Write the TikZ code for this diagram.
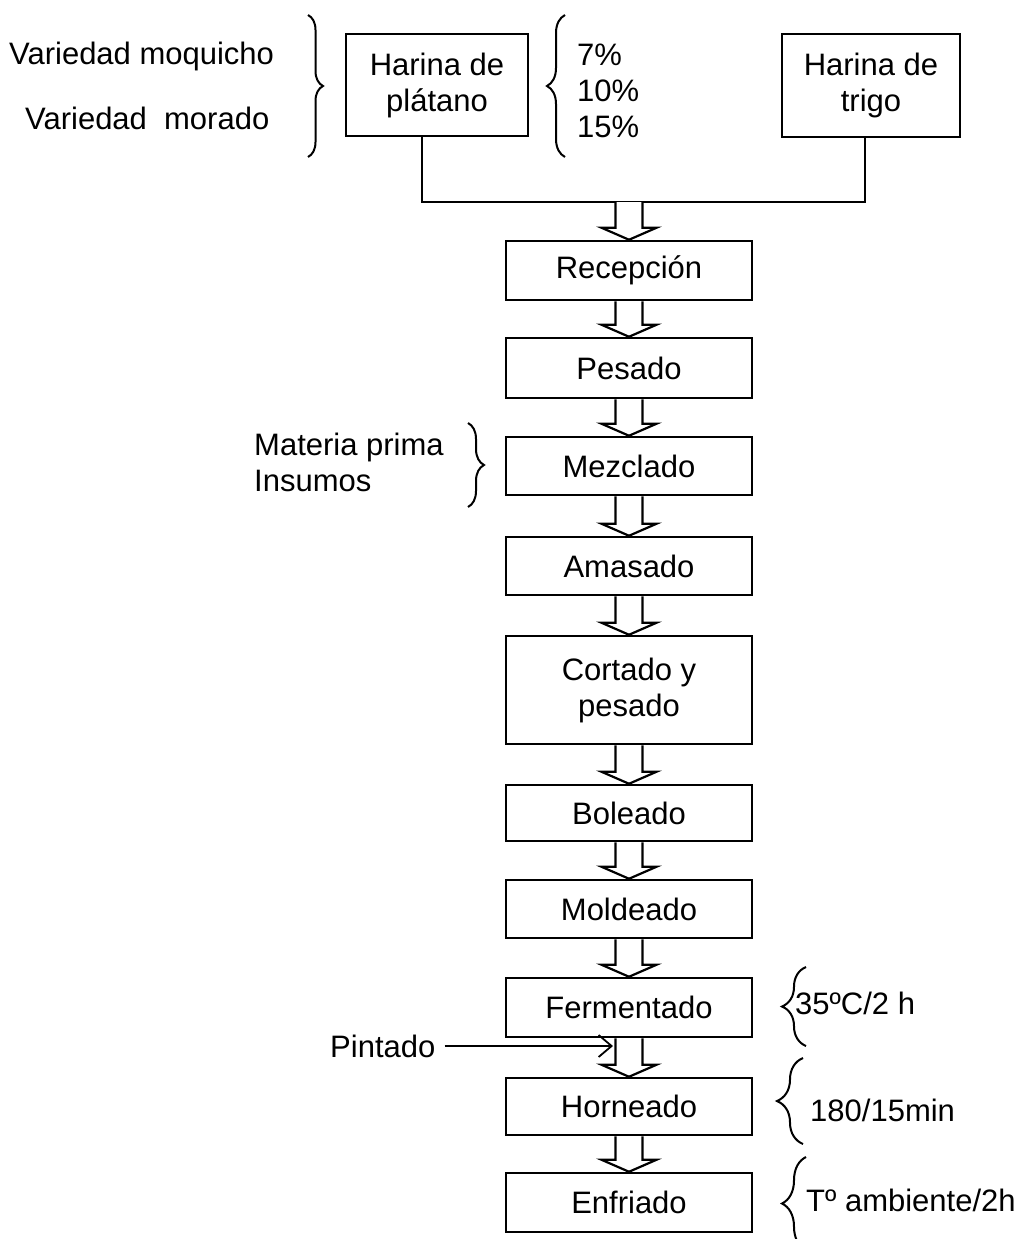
\documentclass[tikz,border=0pt]{standalone}
\usepackage{fontspec}
\setmainfont{Liberation Sans}
\usetikzlibrary{calc,decorations.pathreplacing,arrows.meta}
\newcommand\blockarr[2]{%
  \draw[bigarrow] ($(#1)+(-13.5,0)$) -- ($(#2)+(-13.5,-12)$) -- ($(#2)+(-27.5,-12)$) -- (#2)
    -- ($(#2)+(27.5,-12)$) -- ($(#2)+(13.5,-12)$) -- ($(#1)+(13.5,0)$);}
\begin{document}
\begin{tikzpicture}[x=1pt,y=-1pt,
  every node/.style={font=\fontsize{31}{36}\selectfont, inner sep=0pt},
  proc/.style={draw, line width=2.5pt, minimum width=246pt, align=center},
  src/.style={draw, line width=2.5pt, align=center},
  lbl/.style={align=left, anchor=west},
  bigarrow/.style={draw, line width=2.2pt, fill=white, line join=miter},
  brc/.style={decorate, line width=2pt, decoration={brace, amplitude=#1}},
  conn/.style={line width=2.2pt},
]
\useasboundingbox (0,0) rectangle (1024,1239);
\fill[white] (0,0) rectangle (1024,1239);

% source boxes
\node[src, minimum width=182pt, minimum height=102pt] (plat) at (437,85) {Harina de\\plátano};
\node[src, minimum width=178pt, minimum height=103pt] (trigo) at (871,85.5) {Harina de\\trigo};

% process boxes
\node[proc, minimum height=59pt] (rec) at (629,270.5) {Recepción};
\node[proc, minimum height=60pt] (pes) at (629,368) {Pesado};
\node[proc, minimum height=58pt] (mez) at (629,466) {Mezclado};
\node[proc, minimum height=58pt] (ama) at (629,566) {Amasado};
\node[proc, minimum height=108pt] (cor) at (629,690) {Cortado y\\pesado};
\node[proc, minimum height=56pt] (bol) at (629,813) {Boleado};
\node[proc, minimum height=58pt] (mol) at (629,909) {Moldeado};
\node[proc, minimum height=59pt] (fer) at (629,1007.5) {Fermentado};
\node[proc, minimum height=57pt] (hor) at (629,1106.5) {Horneado};
\node[proc, minimum height=59pt] (enf) at (629,1202.5) {Enfriado};

% side labels
\node[lbl] (var1) at (9,56) {Variedad moquicho};
\node[lbl] (var2) at (25,118) {Variedad~~morado};
\node[lbl] (pct) at (577,91) {7\%\\10\%\\15\%};
\node[lbl] (mp) at (254,462) {Materia prima\\Insumos};
\node[lbl] (t1) at (795,1003) {35ºC/2 h};
\node[lbl] (t2) at (810,1110) {180/15min};
\node[lbl] (t3) at (806,1200) {Tº ambiente/2h};
\node[lbl] (pint) at (330,1046) {Pintado};

% braces
\draw[brc=15pt] (308,15) -- (308,157);
\draw[brc=18pt] (565,157) -- (565,15);
\draw[brc=16pt] (468,423) -- (468,507);
\draw[brc=24pt] (806,1046) -- (806,967);
\draw[brc=26pt] (803,1144) -- (803,1058);
\draw[brc=24pt] (806,1250) -- (806,1157);

% joining connector
\coordinate (junc) at (629,202);
\draw[conn] ([xshift=-15pt]plat.south) |- (junc) -| ([xshift=-6pt]trigo.south);

% block arrows
\blockarr{junc}{rec.north}
\blockarr{rec.south}{pes.north}
\blockarr{pes.south}{mez.north}
\blockarr{mez.south}{ama.north}
\blockarr{ama.south}{cor.north}
\blockarr{cor.south}{bol.north}
\blockarr{bol.south}{mol.north}
\blockarr{mol.south}{fer.north}
\blockarr{fer.south}{hor.north}
\blockarr{hor.south}{enf.north}

% Pintado arrow
\coordinate (pintend) at (613,1046);
\draw[line width=1.8pt, -{Straight Barb[length=13pt,width=22pt]}] ([xshift=9pt]pint.east) -- (pintend);
\end{tikzpicture}
\end{document}
